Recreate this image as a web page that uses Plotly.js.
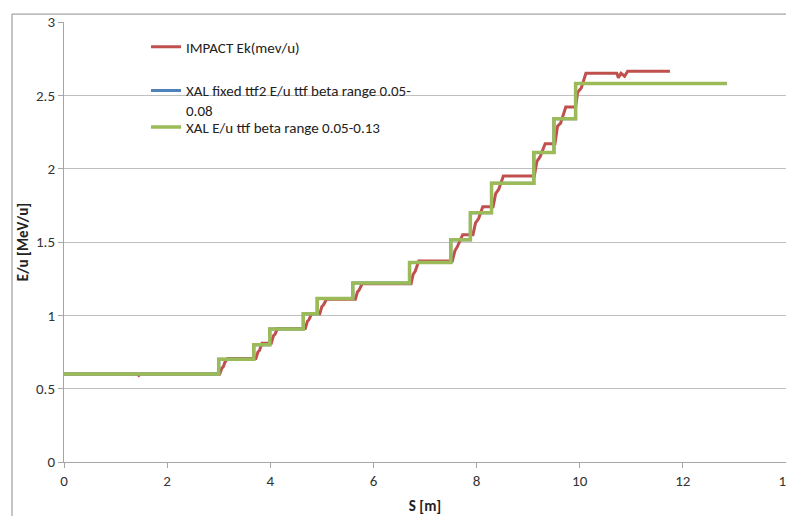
<!DOCTYPE html>
<html>
<head>
<meta charset="utf-8">
<script src="https://cdn.plot.ly/plotly-3.0.1.min.js"></script>
<style>html,body{margin:0;padding:0;background:#fff;}#chart{width:786px;height:516px;}</style>
</head>
<body>
<div id="chart"></div>
<script>
// IMPACT Ek(mev/u)
const impactS = [0, 1.42, 1.45, 1.48, 3.02, 3.06, 3.09, 3.12, 3.17, 3.72, 3.76, 3.79, 3.84, 4.02, 4.06, 4.09, 4.14,
  4.68, 4.72, 4.75, 4.80, 4.96, 5.00, 5.03, 5.09, 5.65, 5.69, 5.72, 5.78, 6.73, 6.77, 6.81, 6.88,
  7.53, 7.58, 7.63, 7.73, 7.93, 7.98, 8.04, 8.12, 8.32, 8.37, 8.43, 8.52, 9.12, 9.17, 9.23, 9.33,
  9.52, 9.57, 9.63, 9.73, 9.92, 9.96, 10.03, 10.12, 10.72, 10.75, 10.80, 10.87, 10.93, 11.75];
const impactE = [0.6, 0.6, 0.59, 0.6, 0.6, 0.64, 0.65, 0.68, 0.705, 0.705, 0.75, 0.76, 0.81, 0.81, 0.86, 0.87, 0.91,
  0.91, 0.96, 0.97, 1.01, 1.01, 1.06, 1.07, 1.11, 1.11, 1.16, 1.17, 1.215, 1.215, 1.28, 1.30, 1.37,
  1.37, 1.44, 1.47, 1.55, 1.55, 1.63, 1.66, 1.74, 1.74, 1.83, 1.86, 1.95, 1.95, 2.05, 2.08, 2.17,
  2.17, 2.29, 2.31, 2.42, 2.42, 2.52, 2.55, 2.65, 2.65, 2.62, 2.65, 2.63, 2.665, 2.665];

// XAL fixed ttf2 E/u ttf beta range 0.05-0.08 (hidden under the green series)
const xalFixedS = [0, 3.00, 3.68, 3.99, 4.64, 4.91, 5.60, 6.70, 7.50, 7.88, 8.29, 9.11, 9.50, 9.92, 12.85];
const xalFixedE = [0.6, 0.70, 0.80, 0.907, 1.01, 1.115, 1.22, 1.36, 1.515, 1.70, 1.90, 2.11, 2.34, 2.58, 2.58];

// XAL E/u ttf beta range 0.05-0.13
const xalS = [0, 3.00, 3.68, 3.99, 4.64, 4.91, 5.60, 6.70, 7.50, 7.88, 8.29, 9.11, 9.50, 9.92, 12.85];
const xalE = [0.6, 0.70, 0.80, 0.907, 1.01, 1.115, 1.22, 1.36, 1.515, 1.70, 1.90, 2.11, 2.34, 2.58, 2.58];

const seriesNames = ["IMPACT Ek(mev/u)", "XAL fixed ttf2 E/u ttf beta range 0.05-<br>0.08", "XAL E/u ttf beta range 0.05-0.13"];
const xTicks = [0, 2, 4, 6, 8, 10, 12, 14];
const yTicks = [0, 0.5, 1, 1.5, 2, 2.5, 3];

const FONT = "Carlito, 'Liberation Sans Narrow', 'Liberation Sans', sans-serif";

const traces = [
  {x: impactS, y: impactE, name: seriesNames[0], mode: "lines", type: "scatter",
   line: {color: "#c0504d", width: 3}, legend: "legend"},
  {x: xalFixedS, y: xalFixedE, name: seriesNames[1], mode: "lines", type: "scatter",
   line: {color: "#4f81bd", width: 3, shape: "hv"}, legend: "legend2"},
  {x: xalS, y: xalE, name: seriesNames[2], mode: "lines", type: "scatter",
   line: {color: "#9bbb59", width: 3.5, shape: "hv"}, legend: "legend3"}
];

const legBase = {font: {family: FONT, size: 15, color: "#222"}, bgcolor: "rgba(0,0,0,0)",
  xanchor: "left", yanchor: "middle", x: 0.1136, borderwidth: 0};

const layout = {
  width: 786, height: 516,
  margin: {l: 64, r: 0, t: 22, b: 54},
  paper_bgcolor: "#fff", plot_bgcolor: "#fff",
  font: {family: FONT, size: 15, color: "#333"},
  xaxis: {range: [0, 14], tickvals: xTicks, ticktext: xTicks.map(String), showgrid: false, zeroline: false,
    showline: true, linecolor: "#a6a6a6", linewidth: 1, ticks: "outside", ticklen: 5, tickcolor: "#a6a6a6",
    ticklabeloverflow: "allow",
    tickfont: {family: FONT, size: 15, color: "#333"},
    title: {text: "<b>S [m]</b>", font: {family: FONT, size: 15, color: "#222"}, standoff: 11}},
  yaxis: {range: [0, 3], tickvals: yTicks, ticktext: ["0", "0.5", "1", "1.5", "2", "2.5", "3"],
    showgrid: true, gridcolor: "#bfbfbf", gridwidth: 1, zeroline: false,
    showline: true, linecolor: "#a6a6a6", linewidth: 1, ticks: "outside", ticklen: 5, tickcolor: "#a6a6a6",
    tickfont: {family: FONT, size: 15, color: "#333"},
    title: {text: "<b>E/u [MeV/u]</b>", font: {family: FONT, size: 15, color: "#222"}, standoff: 3}},
  showlegend: true,
  legend: Object.assign({}, legBase, {y: 0.943}),
  legend2: Object.assign({}, legBase, {y: 0.822, valign: "top"}),
  legend3: Object.assign({}, legBase, {y: 0.761}),
  shapes: [
    {type: "rect", xref: "paper", yref: "paper", x0: -0.072, x1: 1.2, y0: -0.3, y1: 1.018,
     line: {color: "#8c8c8c", width: 1}, fillcolor: "rgba(0,0,0,0)", layer: "below"}
  ]
};

Plotly.newPlot("chart", traces, layout, {displayModeBar: false, staticPlot: true});
</script>
</body>
</html>
